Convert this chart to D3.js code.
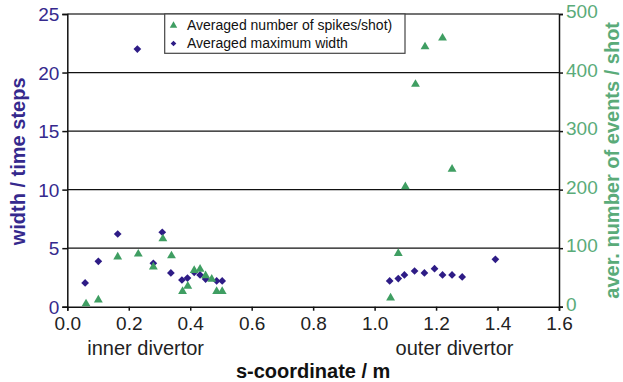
<!DOCTYPE html>
<html>
<head>
<meta charset="utf-8">
<script src="https://cdn.jsdelivr.net/npm/d3@7"></script>
<style>
  html, body { margin: 0; padding: 0; background: #fff; }
  svg { display: block; font-family: "Liberation Sans", Arial, sans-serif; }
</style>
</head>
<body>
<svg id="chart" width="623" height="382"></svg>
<script>
// ---- data ----
const widthS = [0.058, 0.101, 0.164, 0.228, 0.280, 0.309, 0.337, 0.373, 0.391, 0.413, 0.432, 0.450, 0.486, 0.504,
                1.049, 1.077, 1.097, 1.130, 1.162, 1.195, 1.221, 1.252, 1.285, 1.393];
const widthValues = [2.03, 3.88, 6.21, 22.0, 3.71, 6.36, 2.88, 2.28, 2.45, 2.94, 2.71, 2.36, 2.2, 2.2,
                     2.2, 2.4, 2.71, 3.05, 2.88, 3.25, 2.71, 2.71, 2.54, 4.05];
const spikeS = [0.061, 0.101, 0.164, 0.231, 0.280, 0.311, 0.339, 0.375, 0.392, 0.413, 0.432, 0.450, 0.470, 0.486, 0.504,
                1.052, 1.077, 1.100, 1.133, 1.164, 1.221, 1.252];
const spikeValues = [5, 11.5, 85, 90, 68, 116, 87, 26, 35, 62, 64, 53, 47, 26, 26,
                     15, 91, 205, 380, 444, 459, 235];
const xTicks = [0.0, 0.2, 0.4, 0.6, 0.8, 1.0, 1.2, 1.4, 1.6];
const yLeftTicks = [0, 5, 10, 15, 20, 25];
const yRightTicks = [0, 100, 200, 300, 400, 500];
const seriesNames = ["Averaged number of spikes/shot)", "Averaged maximum width"];
const regionLabels = ["inner divertor", "outer divertor"];
const regionS = [0.255, 1.26];

// ---- styles ----
const cBlue = "#2e1c86";
const cBlueText = "#35298d";
const cGreen = "#3f9e62";
const cGreenText = "#5aab79";

const svg = d3.select("#chart");
const L = 67.3, R = 559, T = 14, B = 306.7;

const x = d3.scaleLinear().domain([0, 1.6]).range([L, R]);
const yL = d3.scaleLinear().domain([0, 25]).range([B, T]);
const yR = d3.scaleLinear().domain([0, 500]).range([B, T]);

// gridlines
svg.append("g").selectAll("line").data([5, 10, 15, 20]).join("line")
  .attr("x1", L).attr("x2", R).attr("y1", d => yL(d)).attr("y2", d => yL(d))
  .attr("stroke", "#111").attr("stroke-width", 1.3);
svg.append("line").attr("x1", L).attr("x2", R).attr("y1", T).attr("y2", T)
  .attr("stroke", "#444").attr("stroke-width", 1.5);

// axes
const axL = svg.append("g").attr("transform", `translate(${L},0)`)
  .call(d3.axisLeft(yL).tickValues(yLeftTicks).tickSize(5).tickPadding(3).tickFormat(d3.format("d")));
const axR = svg.append("g").attr("transform", `translate(${R},0)`)
  .call(d3.axisRight(yR).tickValues(yRightTicks).tickSize(4).tickPadding(3).tickFormat(d3.format("d")));
const axB = svg.append("g").attr("transform", `translate(0,${B})`)
  .call(d3.axisBottom(x).tickValues(xTicks).tickSize(4).tickPadding(6).tickFormat(d3.format(".1f")));

[axL, axR, axB].forEach(a => {
  a.select(".domain").attr("stroke", "#111").attr("stroke-width", 1.5);
  a.selectAll(".tick line").attr("stroke", "#111").attr("stroke-width", 1.5);
  a.selectAll("text").attr("font-family", "Liberation Sans, Arial, sans-serif").attr("font-size", 19);
});
axL.selectAll("text").attr("fill", cBlueText).attr("dy", "0.35em");
axR.selectAll("text").attr("fill", cGreenText).attr("dy", "0.2em");
axB.selectAll("text").attr("fill", "#222");

// diamonds (width)
const diamond = d3.symbol().type(d3.symbolDiamond2).size(38);
svg.append("g").selectAll("path").data(widthS.map((s, i) => [s, widthValues[i]])).join("path")
  .attr("d", diamond)
  .attr("transform", d => `translate(${x(d[0])},${yL(d[1])})`)
  .attr("fill", cBlue);

// triangles (spikes)
const tri = d3.symbol().type(d3.symbolTriangle).size(34);
svg.append("g").selectAll("path").data(spikeS.map((s, i) => [s, spikeValues[i]])).join("path")
  .attr("d", tri)
  .attr("transform", d => `translate(${x(d[0])},${yR(d[1])})`)
  .attr("fill", cGreen);

// legend
const lg = svg.append("g");
lg.append("rect").attr("x", 164.7).attr("y", 14).attr("width", 240.3).attr("height", 39.3)
  .attr("fill", "#fff").attr("stroke", "#444").attr("stroke-width", 1.2);
lg.append("path").attr("d", d3.symbol().type(d3.symbolTriangle).size(24))
  .attr("transform", "translate(173.5,25.5)").attr("fill", cGreen);
lg.append("path").attr("d", d3.symbol().type(d3.symbolDiamond2).size(20))
  .attr("transform", "translate(173.5,43.5)").attr("fill", cBlue);
lg.selectAll("text").data(seriesNames).join("text")
  .attr("x", 187).attr("y", (d, i) => 30 + i * 18)
  .attr("font-size", 14).attr("fill", "#111").text(d => d);

// region labels
svg.append("g").selectAll("text").data(regionLabels).join("text")
  .attr("x", (d, i) => x(regionS[i])).attr("y", 355)
  .attr("text-anchor", "middle").attr("font-size", 20).attr("fill", "#222").text(d => d);

// axis titles
svg.append("text").attr("x", (L + R) / 2).attr("y", 378)
  .attr("text-anchor", "middle").attr("font-size", 20).attr("font-weight", "bold")
  .attr("fill", "#111").text("s-coordinate / m");
svg.append("text").attr("transform", `translate(25,${(T + B) / 2 + 1}) rotate(-90)`)
  .attr("text-anchor", "middle").attr("font-size", 20).attr("font-weight", "bold")
  .attr("fill", cBlueText).text("width / time steps");
svg.append("text").attr("transform", `translate(618.5,${(T + B) / 2}) rotate(-90)`)
  .attr("text-anchor", "middle").attr("font-size", 20).attr("font-weight", "bold")
  .attr("fill", cGreenText).text("aver. number of events / shot");
</script>
</body>
</html>
